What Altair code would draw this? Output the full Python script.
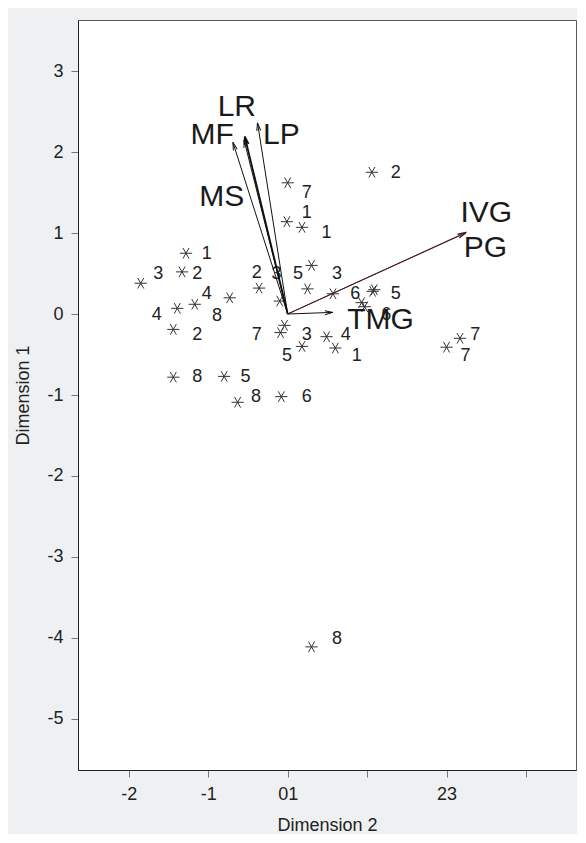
import math
import altair as alt
import pandas as pd

# ---- observations (asterisks) ----
pt_x = [0.00, 1.06, -0.01, 0.18, -1.28, -1.85, -1.33, -1.17, -1.39, -0.73,
        -1.44, -0.36, -0.10, 0.30, 0.25, -0.04, -0.09, 0.18, -1.44, -0.80,
        -0.63, -0.08, 0.57, 1.07, 1.09, 0.93, 0.97, 0.49, 0.60, 2.17,
        2.00, 0.30]
pt_y = [1.62, 1.75, 1.14, 1.07, 0.75, 0.38, 0.52, 0.12, 0.07, 0.20,
        -0.19, 0.32, 0.16, 0.60, 0.31, -0.14, -0.23, -0.40, -0.78, -0.77,
        -1.09, -1.02, 0.25, 0.28, 0.30, 0.14, 0.09, -0.28, -0.42, -0.30,
        -0.41, -4.11]

# ---- observation labels ----
lab_text = ["7", "2", "1", "1", "1", "3", "2", "4", "4", "8",
            "2", "2", "3", "5", "3", "7", "3", "5", "8", "5",
            "8", "6", "6", "5", "6", "4", "1", "7", "7", "8"]
lab_x = [0.24, 1.36, 0.24, 0.49, -1.02, -1.63, -1.14, -1.02, -1.65, -0.89,
         -1.14, -0.39, -0.14, 0.13, 0.62, -0.39, 0.24, -0.01, -1.14, -0.53,
         -0.40, 0.24, 0.85, 1.36, 1.24, 0.73, 0.87, 2.36, 2.24, 0.62]
lab_y = [1.49, 1.74, 1.25, 1.00, 0.74, 0.49, 0.49, 0.25, -0.01, -0.02,
         -0.26, 0.51, 0.49, 0.49, 0.49, -0.26, -0.26, -0.52, -0.78, -0.78,
         -1.02, -1.02, 0.25, 0.25, -0.01, -0.26, -0.52, -0.26, -0.52, -4.01]

# ---- variables (arrows) ----
var_names = ["IVG", "PG", "TMG", "MF", "LR", "MS", "LP"]
var_x = [2.25, 2.24, 0.57, -0.69, -0.54, -0.55, -0.38]
var_y = [1.01, 1.00, 0.02, 2.12, 2.19, 2.15, 2.36]
var_lab_x = [2.50, 2.49, 1.17, -0.95, -0.64, -0.83, -0.08]
var_lab_y = [1.25, 0.81, -0.07, 2.21, 2.56, 1.44, 2.21]
var_group = ["a", "a", "b", "b", "b", "b", "b"]

x_ticks = [-2, -1, 0, 1, 2, 3]
y_ticks = [-5, -4, -3, -2, -1, 0, 1, 2, 3]

X_DOM = [-2.64, 3.63]
Y_DOM = [-5.63, 3.63]
W, H = 498, 750
sx = W / (X_DOM[1] - X_DOM[0])
sy = H / (Y_DOM[1] - Y_DOM[0])

pts = pd.DataFrame({"x": pt_x, "y": pt_y})
labs = pd.DataFrame({"x": lab_x, "y": lab_y, "t": lab_text})
arr = pd.DataFrame({
    "name": var_names, "x": var_x, "y": var_y,
    "x0": [0.0] * len(var_x), "y0": [0.0] * len(var_x),
    "lx": var_lab_x, "ly": var_lab_y, "g": var_group,
})
arr["ang"] = [(math.degrees(math.atan2(a * sx, b * sy)) + 360) % 360
              for a, b in zip(var_x, var_y)]
arr["sw"] = [1.0, 1.0, 1.0, 1.0, 1.8, 1.0, 1.0]

xs = alt.Scale(domain=X_DOM, nice=False, zero=False)
ys = alt.Scale(domain=Y_DOM, nice=False, zero=False)

x_axis = alt.Axis(
    title="Dimension 2", values=x_ticks, grid=False,
    labelExpr="datum.value == 0 ? '01' : datum.value == 2 ? '23' : "
              "(datum.value == 1 || datum.value == 3) ? '' : '' + datum.value",
    titlePadding=13,
)
y_axis = alt.Axis(
    title="Dimension 1", values=y_ticks, grid=False,
    labelExpr="'' + datum.value", titlePadding=14,
)

color_scale = alt.Scale(domain=["a", "b"], range=["#4a1e22", "#111111"])

base_pts = alt.Chart(pts).mark_point(
    shape="M-1,0L1,0M-0.5,-0.866L0.5,0.866M-0.5,0.866L0.5,-0.866",
    size=150, filled=False, color="#333333", strokeWidth=1, opacity=1,
).encode(
    x=alt.X("x:Q", scale=xs, axis=x_axis),
    y=alt.Y("y:Q", scale=ys, axis=y_axis),
)

lab_layer = alt.Chart(labs).mark_text(
    font="Liberation Sans", fontSize=18, color="#222222",
    align="center", baseline="middle",
).encode(x=alt.X("x:Q", scale=xs), y=alt.Y("y:Q", scale=ys), text="t:N")

rules = alt.Chart(arr).mark_rule().encode(
    x=alt.X("x0:Q", scale=xs), y=alt.Y("y0:Q", scale=ys),
    x2="x:Q", y2="y:Q",
    color=alt.Color("g:N", scale=color_scale, legend=None),
    strokeWidth=alt.StrokeWidth("sw:Q", scale=None, legend=None),
)

heads = alt.Chart(arr).mark_point(
    shape="M-0.5,2L0,0L0.5,2", size=64, filled=False, opacity=1,
).encode(
    x=alt.X("x:Q", scale=xs), y=alt.Y("y:Q", scale=ys),
    angle=alt.Angle("ang:Q", scale=None),
    color=alt.Color("g:N", scale=color_scale, legend=None),
    strokeWidth=alt.StrokeWidth("sw:Q", scale=None, legend=None),
)

var_labels = alt.Chart(arr).mark_text(
    font="Liberation Sans", fontSize=30, color="#1a1a1a",
    align="center", baseline="middle",
).encode(x=alt.X("lx:Q", scale=xs), y=alt.Y("ly:Q", scale=ys), text="name:N")

chart = alt.layer(base_pts, lab_layer, rules, heads, var_labels).properties(
    width=W, height=H,
    padding={"left": 70, "top": 12, "right": 1, "bottom": 64},
    autosize=alt.AutoSizeParams(type="none"),
    background="#eff0f2",
).configure_view(
    fill="white", stroke="#5e5750", strokeWidth=1,
).configure_axis(
    labelFont="Liberation Sans", labelFontSize=18, labelColor="#222222",
    titleFont="Liberation Sans", titleFontSize=18, titleFontWeight="normal",
    titleColor="#222222", tickColor="#777777", tickSize=7, tickWidth=1,
    labelPadding=8, domainColor="#222222",
)

chart.save("out.html", embed_options={"renderer": "svg", "actions": False})
